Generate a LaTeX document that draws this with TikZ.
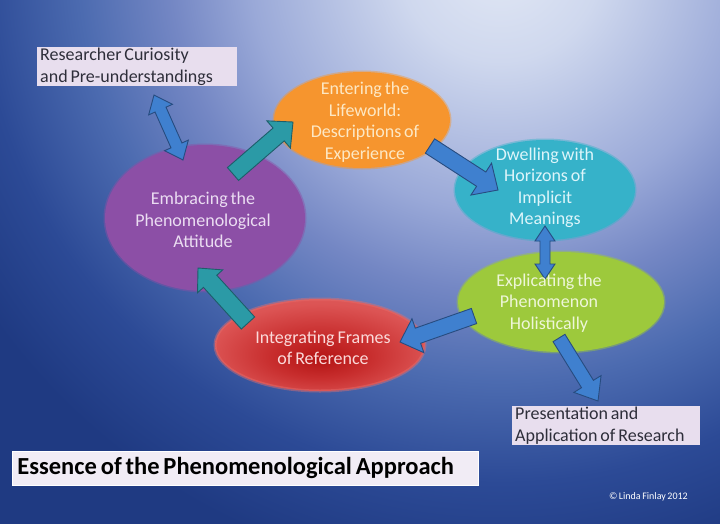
\documentclass[tikz,border=0pt]{standalone}
\usepackage{fontspec}
\setmainfont{Carlito}[WordSpace=0.7]
\usetikzlibrary{shapes.geometric,calc}

\definecolor{bgA}{HTML}{E2E8F5}
\definecolor{bgB}{HTML}{CFD8EE}
\definecolor{bgC}{HTML}{9AA9D8}
\definecolor{bgD}{HTML}{7487C4}
\definecolor{bgE}{HTML}{4C6BB0}
\definecolor{bgF}{HTML}{2C4A96}
\definecolor{bgG}{HTML}{1F3A82}
\definecolor{oraF}{HTML}{F6952E}
\definecolor{oraT}{HTML}{FDE8C4}
\definecolor{teaF}{HTML}{36B2C9}
\definecolor{teaT}{HTML}{DDF5FA}
\definecolor{greF}{HTML}{9DC93C}
\definecolor{greT}{HTML}{EEF6D8}
\definecolor{redA}{HTML}{B41414}
\definecolor{redB}{HTML}{C82E2E}
\definecolor{redC}{HTML}{DC5454}
\definecolor{redD}{HTML}{E46E6E}
\definecolor{redT}{HTML}{FBDADA}
\definecolor{purF}{HTML}{8C4FA6}
\definecolor{purT}{HTML}{EBDDF2}
\definecolor{tealA}{HTML}{2B9AA6}
\definecolor{tealB}{HTML}{1D5E6A}
\definecolor{blueA}{HTML}{3F80CF}
\definecolor{blueB}{HTML}{274C80}
\definecolor{lblfill}{HTML}{E8DEEE}
\definecolor{lbltext}{HTML}{2E2E3A}
\definecolor{ttlfill}{HTML}{F1ECF5}

\pgfdeclareradialshading{bgshade}{\pgfpoint{0bp}{0bp}}{color(0bp)=(bgA); color(4.2bp)=(bgB); color(10.4bp)=(bgC); color(13.75bp)=(bgD); color(17.5bp)=(bgE); color(21.7bp)=(bgF); color(25.8bp)=(bgG); color(50bp)=(bgG)}
\pgfdeclareradialshading{redshade}{\pgfpoint{0bp}{-8bp}}{color(0bp)=(redA); color(12bp)=(redB); color(26bp)=(redC); color(50bp)=(redD)}

\newcommand\fatarrow[6]{%
  \coordinate (fH) at ($(#3)!#6!(#2)$);
  \draw[#1] ($(#2)!#4!90:(#3)$) -- ($(fH)!#4!90:(#3)$) -- ($(fH)!#5!90:(#3)$) -- (#3)
    -- ($(fH)!#5!-90:(#3)$) -- ($(fH)!#4!-90:(#3)$) -- ($(#2)!#4!-90:(#3)$) -- cycle;}
\newcommand\dblarrow[6]{%
  \coordinate (fH) at ($(#3)!#6!(#2)$);
  \coordinate (fG) at ($(#2)!#6!(#3)$);
  \draw[#1] (#2) -- ($(fG)!#5!-90:(#2)$) -- ($(fG)!#4!-90:(#2)$) -- ($(fH)!#4!90:(#3)$)
    -- ($(fH)!#5!90:(#3)$) -- (#3) -- ($(fH)!#5!-90:(#3)$) -- ($(fH)!#4!-90:(#3)$)
    -- ($(fG)!#4!90:(#2)$) -- ($(fG)!#5!90:(#2)$) -- cycle;}

\begin{document}
\begin{tikzpicture}[x=1pt,y=-1pt,
  ell/.style={ellipse, inner sep=0pt, line width=3pt, draw opacity=0.45},
  etxt/.style={font=\fontsize{18}{21.5}\selectfont, align=flush center, inner sep=0pt},
  lbl/.style={fill=lblfill, text=lbltext, font=\fontsize{18}{21.5}\selectfont, align=flush left, inner xsep=3pt, inner ysep=1pt, anchor=north west},
  ttlbox/.style={fill=ttlfill, draw=white, line width=0.8pt, text=black, font=\fontsize{24.5}{28}\selectfont\bfseries, align=flush left, inner xsep=5pt, inner ysep=1pt, anchor=north west},
  tealarr/.style={fill=tealA, draw=tealB, line width=0.9pt, line join=miter},
  bluearr/.style={fill=blueA, draw=blueB, line width=0.9pt, line join=miter}]

\useasboundingbox (0,0) rectangle (720,523);
\begin{scope}
  \clip (0,0) rectangle (720,523);
  \fill[bgG] (0,0) rectangle (720,523);
  \begin{pgfscope}
    \pgftransformshift{\pgfpoint{500pt}{40pt}}
    \pgftransformscale{24}
    \pgflowlevelsynccm
    \pgfuseshading{bgshade}
  \end{pgfscope}
\end{scope}

% ellipses
\node[ell, minimum width=176pt, minimum height=96pt, fill=oraF, draw=oraF] (ora) at (362,120) {};
\node[ell, minimum width=180pt, minimum height=100pt, fill=teaF, draw=teaF] (tea) at (545,190) {};
\node[ell, minimum width=206pt, minimum height=100pt, fill=greF, draw=greF] (gre) at (561,302) {};
\node[ell, minimum width=210pt, minimum height=92pt, shading=redshade, draw=redD] (red) at (320,345) {};
\node[ell, minimum width=200pt, minimum height=146pt, fill=purF, draw=purF] (pur) at (205,218) {};

% arrows
\coordinate (a1s) at (233,174); \coordinate (a1e) at (293,122);
\fatarrow{tealarr}{a1s}{a1e}{8.5pt}{18pt}{19pt}
\coordinate (a2s) at (430,146); \coordinate (a2e) at (498,190);
\fatarrow{bluearr}{a2s}{a2e}{8.5pt}{19pt}{20pt}
\coordinate (a3s) at (545,226); \coordinate (a3e) at (545,279);
\dblarrow{bluearr}{a3s}{a3e}{5pt}{10pt}{15pt}
\coordinate (a4s) at (474,316); \coordinate (a4e) at (400,342);
\fatarrow{bluearr}{a4s}{a4e}{8pt}{18pt}{19pt}
\coordinate (a5s) at (248,323); \coordinate (a5e) at (198,268);
\fatarrow{tealarr}{a5s}{a5e}{9pt}{17pt}{18pt}
\coordinate (a6s) at (559,338); \coordinate (a6e) at (598,401);
\fatarrow{bluearr}{a6s}{a6e}{7pt}{16pt}{20pt}
\coordinate (a7s) at (154,95); \coordinate (a7e) at (183,160);
\dblarrow{bluearr}{a7s}{a7e}{6pt}{13pt}{16pt}

% ellipse texts
\node[etxt, text=oraT] (ora-t) at (365,122) {Entering the\\Lifeworld:\\Descriptions of\\Experience};
\node[etxt, text=teaT] (tea-t) at (545,188) {Dwelling with\\Horizons of\\Implicit\\Meanings};
\node[etxt, text=greT] (gre-t) at (549,303) {Explicating the\\Phenomenon\\Holistically};
\node[etxt, text=redT] (red-t) at (323,348) {Integrating Frames\\of Reference};
\node[etxt, text=purT] (pur-t) at (203,220) {Embracing the\\Phenomenological\\Attitude};

% labels
\node[lbl, text width=194pt, minimum height=37pt] (rc) at (37,47) {Researcher Curiosity\\and Pre-understandings};
\node[lbl, text width=182pt] (pa) at (512,406) {Presentation and\\Application of Research};
\node[ttlbox, text width=456pt, minimum height=34pt] (ttl) at (12,451) {Essence of the Phenomenological Approach};
\node[font=\fontsize{10}{12}\selectfont, text=white, anchor=east, inner sep=0pt] (cr) at (688,497) {© Linda Finlay 2012};
\end{tikzpicture}
\end{document}
